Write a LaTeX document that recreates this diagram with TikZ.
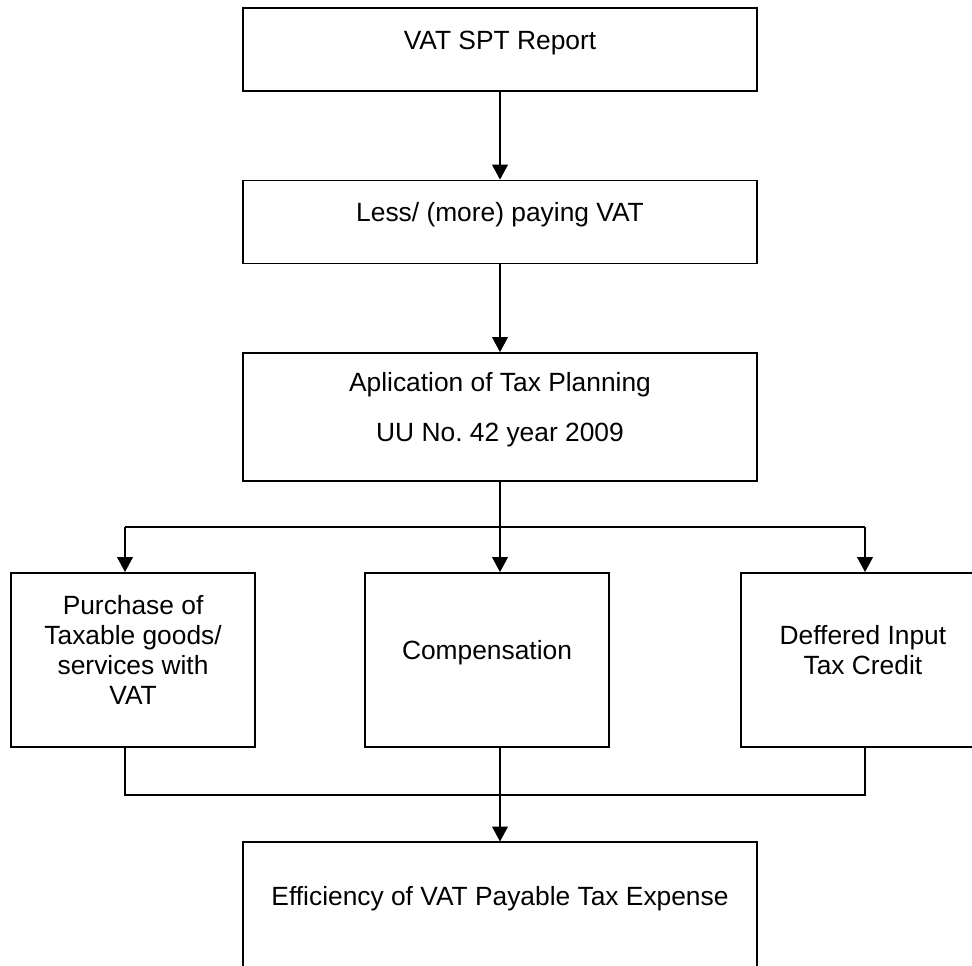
\documentclass[tikz,border=0pt]{standalone}
\usepackage{fontspec}
\setmainfont{Liberation Sans}
\usepackage{tikz}
\usetikzlibrary{arrows.meta,shapes}
\usetikzlibrary{positioning}
\tikzstyle{block} = [draw, rectangle, line width=1pt, inner sep=0pt,
    minimum width=10.28cm, minimum height=1.66cm, font=\fontsize{15}{17}\selectfont]
\tikzstyle{side} = [block, minimum width=4.88cm, minimum height=3.48cm]
\tikzstyle{line} = [draw, line width=0.7pt]
\tikzstyle{arrow} = [line, -{Triangle[length=8.5pt,width=9pt]}]
\newcommand{\boxtext}[1]{\raisebox{0pt}[0pt][0pt]{\begin{tabular}{@{}c@{}}#1\end{tabular}}}

\begin{document}
\begin{tikzpicture}[x=0.02cm, y=-0.02cm, node distance = 3cm]
  \useasboundingbox (0,0) rectangle (972,965);
  \clip (0,0) rectangle (972,965);
  % Place nodes
  \node [block] (report) at (500,49.5) {\boxtext{VAT SPT Report}};
  \node [block, below of=report, node distance=3.45cm] (paying)
  {\boxtext{Less/ (more) paying VAT}};
  \node [block, below of=paying, node distance=3.9cm, minimum height=2.56cm] (planning)
  {\boxtext{Aplication of Tax Planning\\[11.4pt] UU No.\ 42 year 2009}};
  \node [side, below of=planning, node distance=4.86cm, xshift=-0.26cm] (comp)
  {\boxtext{Compensation}};
  \node [side, left of=comp, node distance=7.08cm] (purchase)
  {\boxtext{Purchase of\\Taxable goods/\\services with\\VAT}};
  \node [side, right of=comp, node distance=7.52cm] (deferred)
  {\boxtext{Deffered Input\\Tax Credit}};
  \node [block, below of=comp, node distance=4.92cm, xshift=0.26cm, minimum height=2.54cm] (efficiency)
  {\boxtext{Efficiency of VAT Payable Tax Expense}};
  % Draw edges
  \coordinate (splitL) at (125,527);
  \coordinate (splitR) at (865,527);
  \coordinate (joinL) at (125,795);
  \coordinate (joinR) at (865,795);
  \draw [arrow] (report) -- (paying);
  \draw [arrow] (paying) -- (planning);
  \draw [line] (planning.south) -- (planning.south |- splitL);
  \draw [line] (splitL) -- (splitR);
  \draw [arrow] (splitL) -- (splitL |- purchase.north);
  \draw [arrow] (planning.south |- splitL) -- (planning.south |- comp.north);
  \draw [arrow] (splitR) -- (splitR |- deferred.north);
  \draw [line] (purchase.south -| joinL) -- (joinL) -- (joinR) -- (deferred.south -| joinR);
  \draw [line] (comp.south -| efficiency.north) -- (efficiency.north |- joinL);
  \draw [arrow] (efficiency.north |- joinL) -- (efficiency);
\end{tikzpicture}
\end{document}
